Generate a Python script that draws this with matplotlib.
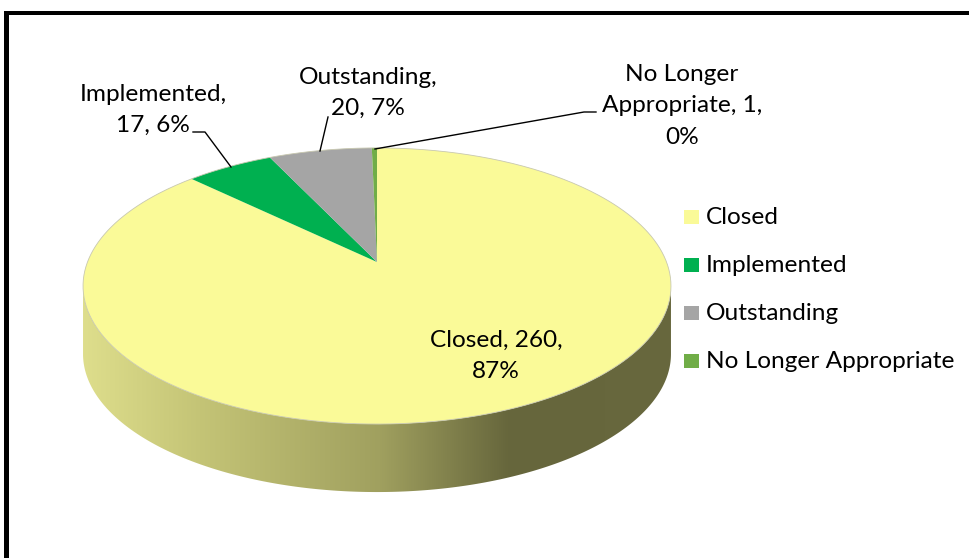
import matplotlib.pyplot as plt
import numpy as np
from matplotlib.patches import Polygon, Rectangle

plt.rcParams["font.family"] = ["Lato", "DejaVu Sans"]

labels = ["Closed", "Implemented", "Outstanding", "No Longer Appropriate"]
counts = [260, 17, 20, 1]
colors = ["#FAFA98", "#00B050", "#A5A5A5", "#70AD47"]

total = sum(counts)
pcts = [round(c / total * 100) for c in counts]

# projected 3D pie geometry (pixel units)
cx, cy = 377, 262
A, B, k = 289.5, 133.9, 0.1737
depth = 68


def proj(t):
    d = 1 + k * np.cos(t)
    return cx + A * np.sin(t) / d, cy - B * np.cos(t) / d


fig = plt.figure(figsize=(9.7, 5.58), dpi=100)
ax = fig.add_axes([0, 0, 1, 1])

# side wall with shading
t1 = np.arccos(-k)
ts = np.linspace(t1, 2 * np.pi - t1, 300)
xs, ys = proj(ts)
side = np.concatenate([np.c_[xs, ys], np.c_[xs[::-1], ys[::-1] + depth]])
side_poly = Polygon(side, closed=True, facecolor="none", edgecolor="none")
ax.add_patch(side_poly)
gx = np.linspace(0, 970, 971)
stops_x = [83, 200, 380, 510, 700]
stops_c = np.array([[222, 222, 140], [196, 196, 118], [160, 160, 95],
                    [102, 102, 60], [104, 104, 62]]) / 255
grad = np.stack([np.interp(gx, stops_x, stops_c[:, i]) for i in range(3)], axis=-1)
im = ax.imshow(grad[None, :, :], extent=[0, 970, 558, 0], aspect="auto", zorder=1)
im.set_clip_path(side_poly)

# top face slices (clockwise from 12 o'clock)
start = 0.0
for c, col in zip(counts, colors):
    end = start + 2 * np.pi * c / total
    tt = np.linspace(start, end, max(int(200 * c / total), 4))
    px, py = proj(tt)
    pts = np.vstack([[cx, cy], np.c_[px, py]])
    ax.add_patch(Polygon(pts, closed=True, facecolor=col, edgecolor="none", zorder=2))
    start = end
to = np.linspace(0, 2 * np.pi, 400)
ox, oy = proj(to)
ax.plot(ox, oy, color="#C8C8B0", lw=0.6, zorder=3)

# data labels
fs = 17.6
txt = dict(fontsize=fs, ha="center", va="center", linespacing=1.6, zorder=5)
ax.text(496, 356, f"{labels[0]}, {counts[0]},\n{pcts[0]}%", **txt)
ax.text(153, 110, f"{labels[1]},\n{counts[1]}, {pcts[1]}%", **txt)
ax.text(368, 93, f"{labels[2]},\n{counts[2]}, {pcts[2]}%", **txt)
ax.text(682, 106, "No Longer\nAppropriate, " + f"{counts[3]},\n{pcts[3]}%", **txt)

# leader lines
ax.plot([193, 205, 231], [132, 132, 167], color="black", lw=1, zorder=4)
ax.plot([328, 320], [117, 151], color="black", lw=1, zorder=4)
ax.plot([596, 584, 375], [112, 112, 149], color="black", lw=1, zorder=4)

# legend
for i, (lab, col) in enumerate(zip(labels, colors)):
    y = 217 + i * 48
    ax.add_patch(Rectangle((684, y - 7), 15, 14, facecolor=col, edgecolor="none"))
    ax.text(706, y, lab, fontsize=fs, ha="left", va="center")

# chart frame
ax.add_patch(Rectangle((4, 11), 966, 3.5, facecolor="black", edgecolor="none"))
ax.add_patch(Rectangle((4, 11), 5, 547, facecolor="black", edgecolor="none"))

ax.set_xlim(0, 970)
ax.set_ylim(558, 0)
ax.axis("off")
fig.savefig("out.png", dpi=100, facecolor="white")
